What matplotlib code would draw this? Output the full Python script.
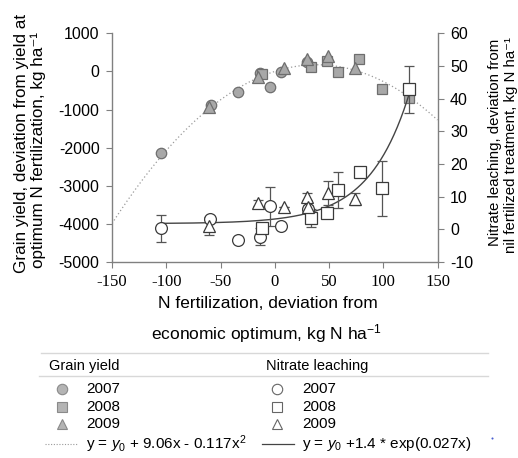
import numpy as np
import matplotlib
matplotlib.use("Agg")
import matplotlib.pyplot as plt
from matplotlib.lines import Line2D

plt.rcParams['font.family'] = ['Liberation Sans', 'DejaVu Sans']
plt.rcParams['mathtext.fontset'] = 'custom'
plt.rcParams['mathtext.rm'] = 'Liberation Sans'
plt.rcParams['mathtext.it'] = 'Liberation Sans:italic'

# ---------------- data ----------------
# Grain yield (left axis, kg/ha deviation)
gy07_x = [-104.5, -59.0, -34.0, -13.8, -4.0, 5.5, 29.5]
gy07_y = [-2130, -874, -541, -31, -410, -5, 240]
gy08_x = [-11.6, 33.6, 48.3, 58.1, 77.5, 98.5, 123.7]
gy08_y = [-65, 126, 283, -21, 330, -471, -690]
gy09_x = [-61.0, -15.7, 8.3, 29.9, 48.9, 74.4]
gy09_y = [-926, -152, 84, 320, 414, 84]

# Nitrate leaching (right axis, kg N/ha deviation) with error bars
nl07_x = [-104.5, -59.3, -34.1, -13.5, -4.0, 5.9, 30.5]
nl07_y = [0.3, 3.1, -3.3, -2.2, 7.1, 1.0, 6.3]
nl07_e = [4.1, 0.0, 0.0, 2.7, 6.0, 0.0, 1.0]
nl08_x = [-11.6, 33.3, 48.3, 58.1, 78.5, 98.5, 123.7]
nl08_y = [0.3, 3.4, 4.9, 12.0, 17.4, 12.5, 42.8]
nl08_e = [0.0, 2.8, 0.6, 5.6, 1.0, 8.5, 7.3]
nl09_x = [-60.9, -15.8, 8.8, 29.9, 30.2, 48.9, 74.4]
nl09_y = [1.0, 8.0, 6.7, 10.0, 6.7, 11.2, 9.2]
nl09_e = [2.7, 1.0, 0.0, 1.0, 0.0, 3.7, 1.8]

# Fitted curves
quad_b, quad_c = 9.06, -0.117
quad_y0 = 0.0
exp_a, exp_k = 1.4, 0.027
exp_y0 = 1.75

xticks = [-150, -100, -50, 0, 50, 100, 150]
yticks_left = [1000, 0, -1000, -2000, -3000, -4000, -5000]
yticks_right = [60, 50, 40, 30, 20, 10, 0, -10]
years = ['2007', '2008', '2009']

# ---------------- figure ----------------
W, H = 518, 458
fig = plt.figure(figsize=(W / 100, H / 100), dpi=100)

def fx(px):
    return px / W

def fy(py):
    return 1 - py / H

L, R, T, B = 112, 437.5, 33.3, 262
ax = fig.add_axes([fx(L), fy(B), fx(R - L), (B - T) / H])
ax2 = ax.twinx()

spine_c = '#808080'
edge_dark = '#3a3a3a'
fill_gray = '#a8a8a8'
edge_gray = '#6e6e6e'

ax.set_xlim(-150, 150)
ax.set_ylim(-5000, 1000)
ax2.set_ylim(-10, 60)

# quadratic curve (dotted)
xq = np.linspace(-150, 150, 300)
ax.plot(xq, quad_y0 + quad_b * xq + quad_c * xq ** 2, ls=(0, (1, 2)),
        color='#9a9a9a', lw=0.9, zorder=1)

# exponential curve (solid) on right axis
xe = np.linspace(-104.5, 123.7, 300)
ax2.plot(xe, exp_y0 + exp_a * np.exp(exp_k * xe), color='#444444', lw=1.0, zorder=1)

# grain yield markers
gkw = dict(ls='none', markerfacecolor=fill_gray, markeredgecolor=edge_gray,
           markeredgewidth=0.9, zorder=3)
ax.plot(gy07_x, gy07_y, marker='o', ms=7.5, **gkw)
ax.plot(gy08_x, gy08_y, marker='s', ms=7.0, **gkw)
ax.plot(gy09_x, gy09_y, marker='^', ms=8.0, **gkw)

# nitrate leaching markers with error bars
nkw = dict(ls='none', mfc='white', mec=edge_dark, mew=0.9, ecolor='#555555',
           elinewidth=0.9, capsize=3.5, capthick=0.9, zorder=4)
ax2.errorbar(nl07_x, nl07_y, yerr=nl07_e, marker='o', ms=8.5, **nkw)
ax2.errorbar(nl08_x, nl08_y, yerr=nl08_e, marker='s', ms=8.0, **nkw)
ax2.errorbar(nl09_x, nl09_y, yerr=nl09_e, marker='^', ms=8.5, **nkw)

# axes styling
for a in (ax, ax2):
    a.spines['top'].set_visible(False)
    for s in ('left', 'right', 'bottom'):
        a.spines[s].set_color(spine_c)
        a.spines[s].set_linewidth(1.0)
    a.set_facecolor('none')
ax.spines['right'].set_visible(False)
ax2.spines['left'].set_visible(False)
ax2.spines['bottom'].set_visible(False)

ax.set_xticks(xticks)
ax.set_xticklabels([str(v) for v in xticks], fontfamily='Liberation Serif', fontsize=12)
ax.set_yticks(yticks_left)
ax.set_yticklabels([str(v) for v in yticks_left], fontsize=11.5)
ax2.set_yticks(yticks_right)
ax2.set_yticklabels([str(v) for v in yticks_right], fontsize=11.5)
ax.tick_params(axis='x', direction='out', length=4, color=spine_c, pad=5)
ax.tick_params(axis='y', direction='out', length=4, color=spine_c, pad=5)
ax2.tick_params(axis='y', direction='out', length=4, color=spine_c, pad=5)

# axis labels
fig.text(fx(29), fy(143), 'Grain yield, deviation from yield at', rotation=90,
         ha='right', va='center', fontsize=12.3)
fig.text(fx(46.5), fy(150), 'optimum N fertilization, kg ha\u207b\u00b9', rotation=90,
         ha='right', va='center', fontsize=12.3)
fig.text(fx(502), fy(142), 'Nitrate leaching, deviation from', rotation=90,
         ha='right', va='center', fontsize=10.8)
fig.text(fx(517.5), fy(145), 'nil fertilized treatment, kg N ha\u207b\u00b9', rotation=90,
         ha='right', va='center', fontsize=10.8)
fig.text(fx(268), fy(304), 'N fertilization, deviation from', ha='center', va='center',
         fontsize=12.5)
fig.text(fx(266), fy(334), r'economic optimum, kg N ha$^{\mathregular{-1}}$', ha='center',
         va='center', fontsize=12.5)

# legend block
lc = '#d8d8d8'
fig.add_artist(Line2D([fx(41), fx(488)], [fy(353), fy(353)], color=lc, lw=1.0))
fig.add_artist(Line2D([fx(39), fx(488)], [fy(376), fy(376)], color=lc, lw=1.0))
fig.text(fx(49), fy(366), 'Grain yield', ha='left', va='center', fontsize=10.5)
fig.text(fx(266), fy(366), 'Nitrate leaching', ha='left', va='center', fontsize=10.5)

row_y = [389, 407, 424]
mk = ['o', 's', '^']
msz = [7.5, 6.5, 7.5]
for yr, py, m, s in zip(years, row_y, mk, msz):
    fig.add_artist(Line2D([fx(62)], [fy(py)], marker=m, ms=s, ls='none',
                          mfc='#b4b4b4', mec='#8a8a8a', mew=0.8))
    fig.text(fx(86), fy(py), yr, ha='left', va='center', fontsize=11)
    fig.add_artist(Line2D([fx(277)], [fy(py)], marker=m, ms=s, ls='none',
                          mfc='white', mec='#666666', mew=0.8))
    fig.text(fx(302), fy(py), yr, ha='left', va='center', fontsize=11)

fig.add_artist(Line2D([fx(45), fx(77)], [fy(444), fy(444)], color='#9a9a9a',
                      lw=0.8, ls=(0, (1, 1.5))))
fig.text(fx(86), fy(444), r'y = $\mathit{y_0}$ + 9.06x - 0.117x$^{2}$',
         ha='left', va='center', fontsize=11)
fig.add_artist(Line2D([fx(262), fx(294)], [fy(444), fy(444)], color='#444444', lw=0.9))
fig.text(fx(302), fy(444), r'y = $\mathit{y_0}$ +1.4 * exp(0.027x)',
         ha='left', va='center', fontsize=11)
fig.add_artist(Line2D([fx(492)], [fy(438)], marker='o', ms=1.5, ls='none',
                      mfc='#4a5fd0', mec='none'))

fig.savefig('out.png', dpi=100)
